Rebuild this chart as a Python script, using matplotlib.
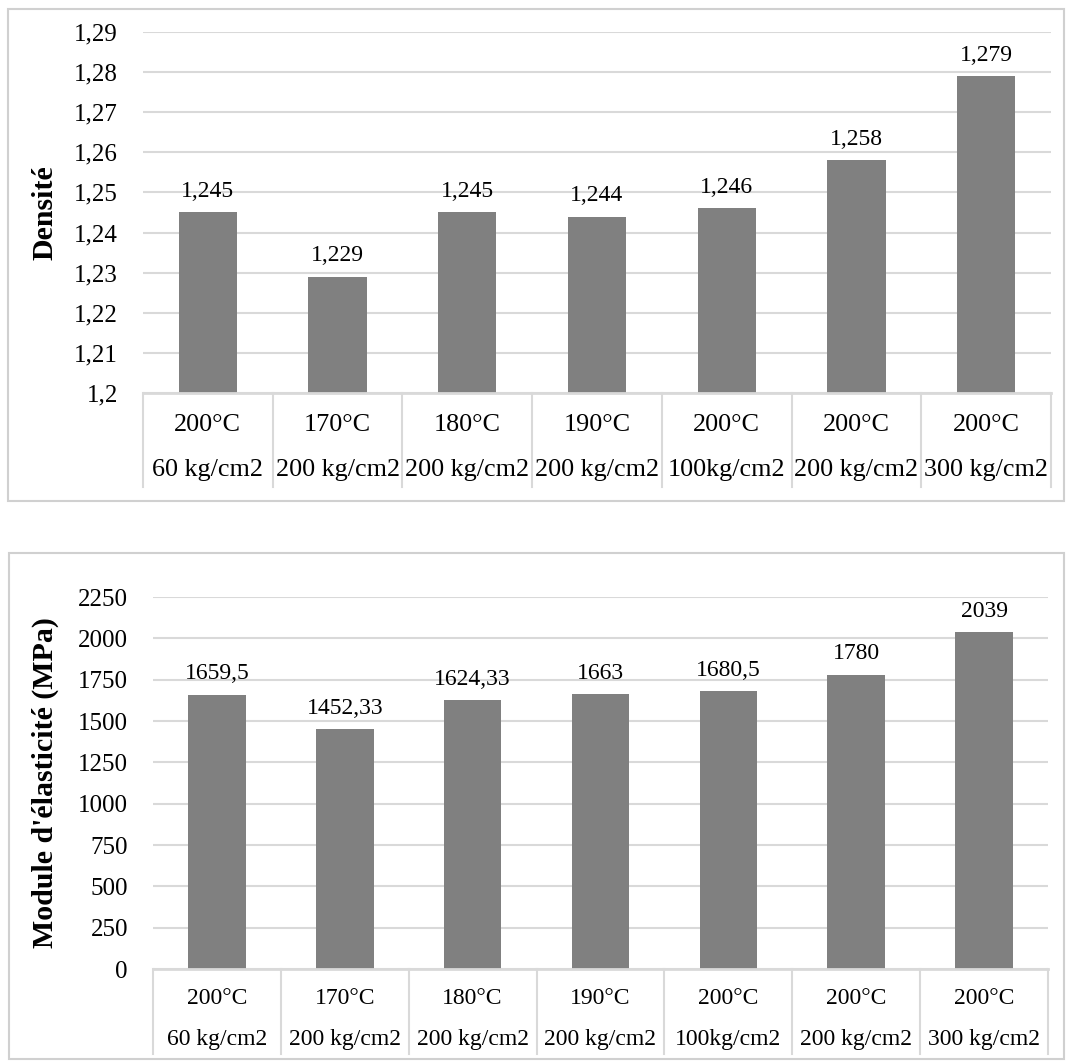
import numpy as np
import matplotlib.pyplot as plt
from matplotlib.patches import Rectangle
from matplotlib.ticker import FuncFormatter
import matplotlib.transforms as mtrans

plt.rcParams['font.family'] = ['Liberation Serif', 'DejaVu Serif']

temperatures = ["200°C", "170°C", "180°C", "190°C", "200°C", "200°C", "200°C"]
pressures = ["60 kg/cm2", "200 kg/cm2", "200 kg/cm2", "200 kg/cm2",
             "100kg/cm2", "200 kg/cm2", "300 kg/cm2"]
densite = [1.245, 1.229, 1.245, 1.244, 1.246, 1.258, 1.279]
module = [1659.5, 1452.33, 1624.33, 1663, 1680.5, 1780, 2039]

W, H = 1067, 1061
GRID = '#d9d9d9'
BAR = '#808080'


def fr(v):
    return f"{v:g}".replace('.', ',')


def panel(fig, box, ax_px, ylim, yticks, values, ylabel, ylab_x, row_y, cat_fs):
    # outer border of the chart
    x0, y0, x1, y1 = box
    fig.patches.append(Rectangle((x0 / W, 1 - y1 / H), (x1 - x0) / W, (y1 - y0) / H,
                                 transform=fig.transFigure, fill=False,
                                 edgecolor='#d0d0d0', linewidth=1.5))

    l, t, r, b, cb = ax_px
    ax = fig.add_axes([l / W, 1 - b / H, (r - l) / W, (b - t) / H])
    x = np.arange(len(values))
    ax.bar(x, [v - ylim[0] for v in values], bottom=ylim[0], width=0.45,
           color=BAR, zorder=3)
    for i, v in enumerate(values):
        ax.annotate(fr(v), (i, v), xytext=(0, 11), textcoords='offset points',
                    ha='center', va='baseline', fontsize=17)

    ax.set_xlim(-0.5, len(values) - 0.5)
    ax.set_ylim(*ylim)
    ax.set_yticks(yticks)
    ax.yaxis.set_major_formatter(FuncFormatter(lambda v, p: fr(round(v, 4))))
    ax.grid(axis='y', color=GRID, linewidth=1.5, zorder=0)
    ax.set_xticks([])
    for s in ax.spines.values():
        s.set_visible(False)
    ax.tick_params(axis='y', length=0, pad=18, labelsize=18)

    # category table below the plot
    depth = (cb - b) / (b - t)
    tr = mtrans.blended_transform_factory(ax.transData, ax.transAxes)
    ax.plot([-0.5, len(values) - 0.5], [0, 0], color=GRID, linewidth=2,
            transform=tr, clip_on=False, zorder=4)
    for k in range(len(values) + 1):
        ax.plot([k - 0.5, k - 0.5], [0, -depth], color=GRID, linewidth=1.5,
                transform=tr, clip_on=False)
    r1 = -(row_y[0] - b) / (b - t)
    r2 = -(row_y[1] - b) / (b - t)
    for i in range(len(values)):
        ax.text(i, r1, temperatures[i], transform=tr, ha='center', va='center',
                fontsize=cat_fs)
        ax.text(i, r2, pressures[i], transform=tr, ha='center', va='center',
                fontsize=cat_fs)

    fig.text(ylab_x / W, 1 - ((t + b) / 2) / H, ylabel, rotation=90,
             ha='center', va='center', fontsize=21.5, fontweight='bold')
    return ax


fig = plt.figure(figsize=(W / 100, H / 100), dpi=100)

panel(fig, (8, 9, 1064, 501), (143, 32, 1051, 393, 487),
      (1.2, 1.29), np.arange(1.2, 1.2901, 0.01), densite, "Densité", 45,
      (425, 470), 18.8)

panel(fig, (9, 553, 1064, 1059), (153, 597, 1048, 969, 1054),
      (0, 2250), np.arange(0, 2251, 250), module, "Module d'élasticité (MPa)", 45,
      (998, 1040), 17)

fig.savefig("out.png", dpi=100)
